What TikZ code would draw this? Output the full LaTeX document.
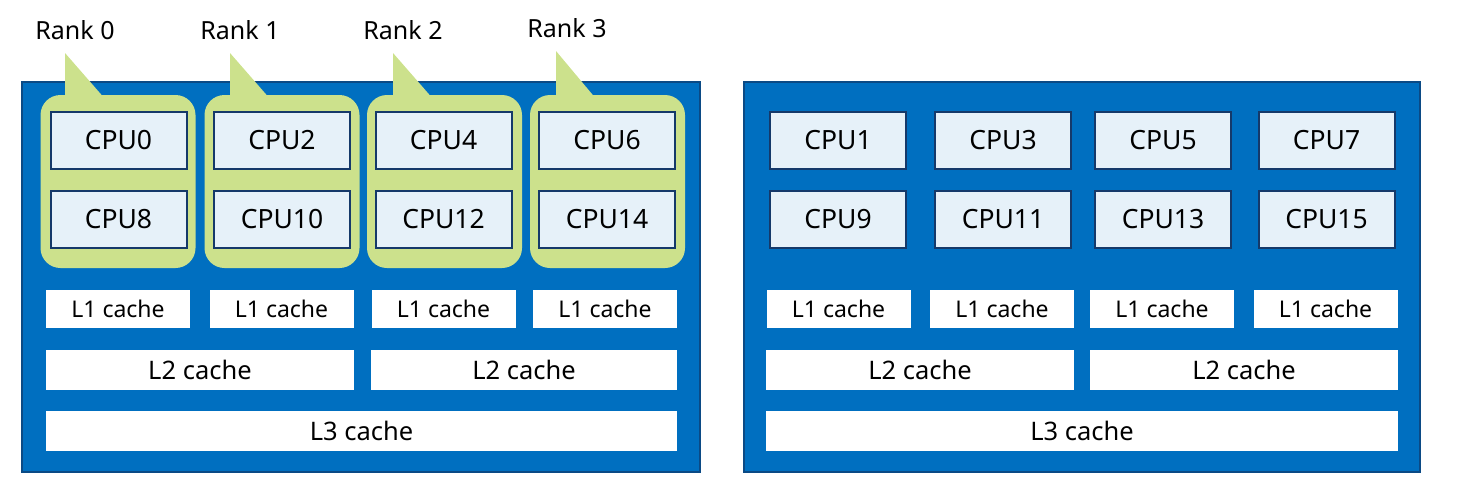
\documentclass[tikz,border=0pt]{standalone}
\usepackage{fontspec}
\setmainfont{Noto Sans}
\usepackage{xcolor}
\usetikzlibrary{positioning}

\definecolor{sockblue}{HTML}{006FC0}
\definecolor{sockedge}{HTML}{0B4A85}
\definecolor{rankgreen}{HTML}{CCE18C}
\definecolor{cpufill}{HTML}{E6F1F9}
\definecolor{cpuedge}{HTML}{15396A}

\begin{document}
\begin{tikzpicture}[x=1pt, y=-1pt]
    % Styles
    \tikzstyle{socket} = [draw=sockedge, fill=sockblue, line width=1.5pt, minimum height=390, inner sep=0]
    \tikzstyle{rankbox} = [fill=rankgreen, rounded corners=20pt, minimum width=155, minimum height=173, inner sep=0]
    \tikzstyle{cpu} = [draw=cpuedge, fill=cpufill, line width=2pt, minimum width=136, minimum height=57, inner sep=0, font=\fontsize{26.5}{30}\selectfont]
    \tikzstyle{lone} = [fill=white, minimum width=144, minimum height=38, inner sep=0, font=\fontsize{23}{26}\selectfont]
    \tikzstyle{ltwo} = [fill=white, minimum width=308, minimum height=40, inner sep=0, font=\fontsize{25.5}{28}\selectfont]
    \tikzstyle{lthree} = [fill=white, minimum width=632, minimum height=40, inner sep=0, font=\fontsize{25.5}{28}\selectfont]
    \tikzstyle{ranklabel} = [inner sep=0, font=\fontsize{25}{28}\selectfont]

    \useasboundingbox (0,0) rectangle (1467,496);

    % Sockets
    \node[socket, minimum width=678] (sockA) at (361,277) {};
    \node[socket, minimum width=676] (sockB) at (1082,277) {};

    % Rank groups (left socket)
    \node[rankbox] (grp0) at (118,181.5) {};
    \node[rankbox] (grp1) at (282,181.5) {};
    \node[rankbox] (grp2) at (444.5,181.5) {};
    \node[rankbox] (grp3) at (607.5,181.5) {};

    % Callout tails
    \fill[rankgreen] (65,53) -- (65,100) -- (106,100) -- cycle;
    \fill[rankgreen] (230,53) -- (230,100) -- (271,100) -- cycle;
    \fill[rankgreen] (393,53) -- (393,100) -- (434,100) -- cycle;
    \fill[rankgreen] (556,51) -- (556,100) -- (597,100) -- cycle;

    % Rank labels
    \node[ranklabel] (rank0) at (75,30) {Rank 0};
    \node[ranklabel] (rank1) at (240,30) {Rank 1};
    \node[ranklabel] (rank2) at (403,30) {Rank 2};
    \node[ranklabel] (rank3) at (567,28) {Rank 3};

    % CPUs, left socket
    \node[cpu] (cpu0) at (118.5,140) {CPU0};
    \node[cpu] (cpu2) at (282,140) {CPU2};
    \node[cpu] (cpu4) at (443.5,140) {CPU4};
    \node[cpu] (cpu6) at (607,140) {CPU6};
    \node[cpu] (cpu8) at (118.5,219.5) {CPU8};
    \node[cpu] (cpu10) at (282,219.5) {CPU10};
    \node[cpu] (cpu12) at (443.5,219.5) {CPU12};
    \node[cpu] (cpu14) at (607,219.5) {CPU14};

    % CPUs, right socket
    \node[cpu] (cpu1) at (838,140) {CPU1};
    \node[cpu] (cpu3) at (1003,140) {CPU3};
    \node[cpu] (cpu5) at (1163,140) {CPU5};
    \node[cpu] (cpu7) at (1326.5,140) {CPU7};
    \node[cpu] (cpu9) at (838,219.5) {CPU9};
    \node[cpu] (cpu11) at (1003,219.5) {CPU11};
    \node[cpu] (cpu13) at (1163,219.5) {CPU13};
    \node[cpu] (cpu15) at (1326.5,219.5) {CPU15};

    % Caches, left socket
    \node[lone] (lAa) at (118,309) {L1 cache};
    \node[lone] (lAb) at (281.5,309) {L1 cache};
    \node[lone] (lAc) at (443.5,309) {L1 cache};
    \node[lone] (lAd) at (605,309) {L1 cache};
    \node[ltwo] (mAa) at (200,370) {L2 cache};
    \node[ltwo, minimum width=306] (mAb) at (524,370) {L2 cache};
    \node[lthree, minimum width=631] (nA) at (361.5,431) {L3 cache};

    % Caches, right socket
    \node[lone] (lBa) at (838.5,309) {L1 cache};
    \node[lone] (lBb) at (1002,309) {L1 cache};
    \node[lone] (lBc) at (1162,309) {L1 cache};
    \node[lone] (lBd) at (1325.5,309) {L1 cache};
    \node[ltwo] (mBa) at (920,370) {L2 cache};
    \node[ltwo] (mBb) at (1244,370) {L2 cache};
    \node[lthree] (nB) at (1082,431) {L3 cache};
\end{tikzpicture}
\end{document}
